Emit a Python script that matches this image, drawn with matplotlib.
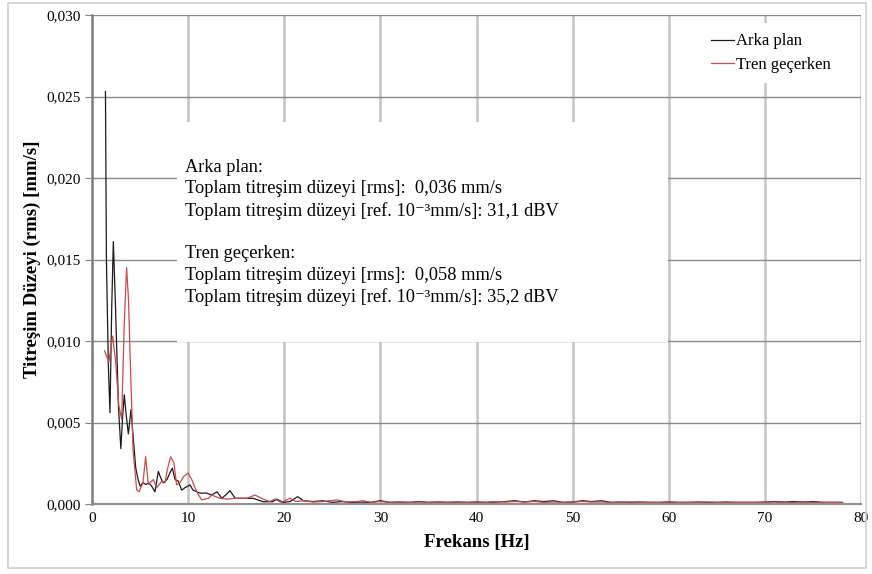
import matplotlib
matplotlib.use("Agg")
import matplotlib.pyplot as plt
from matplotlib.patches import Rectangle
from matplotlib.ticker import FuncFormatter, MultipleLocator

plt.rcParams['font.family'] = ['Liberation Serif', 'DejaVu Serif']

# ---- data ----
bg_freq = [1.40, 1.50, 1.70, 1.87, 2.05, 2.22, 2.45, 2.75, 3.00, 3.20, 3.36, 3.55, 3.78, 4.06,
           4.30, 4.55, 4.80, 5.00, 5.30, 5.60, 5.90, 6.20, 6.55, 6.90, 7.15, 7.40, 7.80, 8.10,
           8.36, 8.64, 8.98, 9.33, 9.67, 10.2, 10.5, 11.2, 11.9, 12.45, 13.0, 13.5, 14.0, 14.35,
           14.9, 15.7, 16.75, 17.8, 18.8, 19.2, 19.9, 20.6, 21.4, 22.0, 23.0, 24.0, 25.0, 26.0,
           27.0, 28.0, 29.0, 30.0, 31.0, 32.0, 33.0, 34.0, 35.0, 36.0, 37.0, 38.0, 39.0, 40.0,
           41.0, 42.0, 43.0, 44.0, 45.0, 46.0, 47.0, 48.0, 49.0, 50.0, 51.0, 52.0, 53.0, 54.0,
           55.0, 56.0, 57.0, 58.0, 59.0, 60.0, 61.0, 62.0, 63.0, 64.0, 65.0, 66.0, 67.0, 68.0,
           69.0, 70.0, 71.0, 72.0, 73.0, 74.0, 75.0, 76.0, 77.0, 78.0]
bg_val = [0.0253, 0.0150, 0.0085, 0.0056, 0.0120, 0.0161, 0.0120, 0.0060, 0.0034, 0.0055, 0.0067,
          0.0055, 0.0043, 0.0058, 0.0040, 0.0022, 0.0015, 0.0011, 0.0013, 0.0012, 0.0013, 0.0011,
          0.00075, 0.0020, 0.0016, 0.0013, 0.0015, 0.0019, 0.0022, 0.0015, 0.0014, 0.00085, 0.0010,
          0.00117, 0.00086, 0.00067, 0.00067, 0.00055, 0.00075, 0.00035, 0.0006, 0.00082, 0.00035,
          0.00035, 0.00035, 0.00014, 0.00014, 0.0003, 0.0001, 0.00015, 0.00045, 0.0002, 0.00015,
          0.0002, 0.0001, 0.00015, 0.0001, 0.00012, 0.0001, 0.0002, 0.0001, 0.00012, 0.0001,
          0.00015, 0.0001, 0.00012, 0.0001, 0.00012, 0.0001, 0.00012, 0.0001, 0.00012, 0.00015,
          0.0002, 0.00012, 0.0002, 0.00015, 0.0002, 0.0001, 0.00012, 0.0002, 0.00015, 0.0002,
          0.0001, 0.00012, 0.0001, 0.00012, 0.0001, 0.0001, 0.00012, 0.0001, 0.0001, 0.00012,
          0.0001, 0.0001, 0.00012, 0.0001, 0.0001, 0.0001, 0.00012, 0.00015, 0.00012, 0.00015,
          0.00012, 0.00015, 0.0001, 0.0001, 0.0001]

tr_freq = [1.30, 1.55, 1.75, 2.15, 2.45, 2.80, 3.09, 3.35, 3.60, 3.80, 3.95, 4.27, 4.65, 4.90,
           5.30, 5.58, 5.86, 6.38, 6.73, 7.25, 7.60, 7.83, 8.18, 8.53, 8.80, 9.15, 9.50, 10.0,
           10.37, 10.9, 11.4, 12.1, 12.45, 13.3, 14.0, 15.05, 16.1, 16.96, 17.8, 18.5, 19.0,
           19.7, 20.6, 21.2, 22.0, 23.0, 24.0, 25.5, 26.5, 27.5, 28.2, 29.0, 30.0, 31.0, 32.0,
           33.0, 34.0, 35.0, 36.0, 37.0, 38.0, 39.0, 40.0, 41.0, 42.0, 43.0, 44.0, 45.0, 46.0,
           47.0, 48.0, 49.0, 50.0, 51.0, 52.0, 53.0, 54.0, 55.0, 56.0, 57.0, 58.0, 59.0, 60.0,
           61.0, 62.0, 63.0, 64.0, 65.0, 66.0, 67.0, 68.0, 69.0, 70.0, 71.0, 72.0, 73.0, 74.0,
           75.0, 76.0, 77.0, 78.1]
tr_val = [0.0094, 0.0090, 0.0087, 0.0103, 0.0088, 0.0060, 0.0052, 0.0110, 0.0145, 0.0125, 0.0094,
          0.0033, 0.00086, 0.00075, 0.0013, 0.0029, 0.0012, 0.0015, 0.0010, 0.0014, 0.0013, 0.0021,
          0.0029, 0.0025, 0.00117, 0.0013, 0.00167, 0.0019, 0.0015, 0.00075, 0.00025, 0.00035,
          0.00055, 0.00035, 0.0003, 0.00035, 0.00035, 0.00055, 0.0003, 0.00015, 0.0003, 0.0001,
          0.00035, 0.00015, 0.0002, 0.00012, 0.00015, 0.00025, 0.00012, 0.00015, 0.0002, 0.0001,
          0.00015, 0.0001, 0.00012, 0.0001, 0.00012, 0.0001, 0.00012, 0.0001, 0.00012, 0.0001,
          0.00012, 0.0001, 0.00015, 0.00012, 0.00015, 0.00012, 0.00015, 0.0001, 0.00012, 0.0001,
          0.00012, 0.00015, 0.00012, 0.00012, 0.0001, 0.0001, 0.00012, 0.0001, 0.0001, 0.0001,
          0.00012, 0.0001, 0.0001, 0.0001, 0.00012, 0.0001, 0.0001, 0.0001, 0.0001, 0.0001,
          0.0001, 0.00012, 0.0001, 0.0001, 0.00012, 0.0001, 0.0001, 0.0001, 0.0001]

label_bg = "Arka plan"
label_tr = "Tren geçerken"
xlabel = "Frekans [Hz]"
ylabel = "Titreşim Düzeyi (rms) [mm/s]"
box_text = ("Arka plan:\n"
            "Toplam titreşim düzeyi [rms]:  0,036 mm/s\n"
            "Toplam titreşim düzeyi [ref. 10⁻³mm/s]: 31,1 dBV\n"
            "\n"
            "Tren geçerken:\n"
            "Toplam titreşim düzeyi [rms]:  0,058 mm/s\n"
            "Toplam titreşim düzeyi [ref. 10⁻³mm/s]: 35,2 dBV")

# ---- figure ----
fig = plt.figure(figsize=(8.72, 5.74), dpi=100)
W, H = 872, 574
ax = fig.add_axes([92 / W, 1 - 504 / H, (861 - 92) / W, (504 - 15) / H])

fig.patches.append(Rectangle((8 / W, 1 - 568 / H), (866 - 8) / W, (568 - 3) / H,
                             transform=fig.transFigure, fill=False,
                             edgecolor='#d0d0d0', linewidth=1.2))

ax.set_xlim(0, 80)
ax.set_ylim(0, 0.030)
ax.xaxis.set_major_locator(MultipleLocator(10))
ax.yaxis.set_major_locator(MultipleLocator(0.005))
ax.yaxis.set_major_formatter(FuncFormatter(lambda v, p: f"{v:.3f}".replace('.', ',')))
ax.set_axisbelow(True)
ax.grid(axis='y', color='#8a8a8a', linewidth=1.0)
ax.grid(axis='x', color='#c4c4c4', linewidth=1.8)

for s in ['top', 'right']:
    ax.spines[s].set_visible(False)
ax.spines['left'].set_color('#808080')
ax.spines['left'].set_linewidth(1.8)
ax.spines['bottom'].set_color('#909090')
ax.spines['bottom'].set_linewidth(1.5)
ax.tick_params(axis='y', direction='out', length=5, color='#808080', labelsize=11, pad=3)
ax.tick_params(axis='x', length=0, labelsize=11, pad=6)

# white text box
ax.add_patch(Rectangle((0.1105, 0.331), 0.6385, 0.45, transform=ax.transAxes,
                       facecolor='white', edgecolor='none', zorder=1.5))
ax.text((185 - 92) / 769, (504 - 159) / 489, box_text, transform=ax.transAxes,
        fontsize=13.2, va='top', ha='left', linespacing=1.33, zorder=3)

ax.plot(bg_freq, bg_val, color='#1a1a1a', linewidth=0.9, label=label_bg, zorder=4)
ax.plot(tr_freq, tr_val, color='#cc4a4a', linewidth=0.9, label=label_tr, zorder=4)

leg = ax.legend(loc='upper right', bbox_to_anchor=(0.985, 1.0), frameon=True, fontsize=12,
                handlelength=1.4, handletextpad=0.15, borderpad=0.6, labelspacing=0.45)
leg.get_frame().set_edgecolor('none')
leg.get_frame().set_facecolor('white')
leg.get_frame().set_alpha(1)

ax.set_xlabel(xlabel, fontsize=13.5, fontweight='bold', labelpad=6)
ax.set_ylabel(ylabel, fontsize=13.5, fontweight='bold', labelpad=4)

fig.savefig("out.png", dpi=100)
